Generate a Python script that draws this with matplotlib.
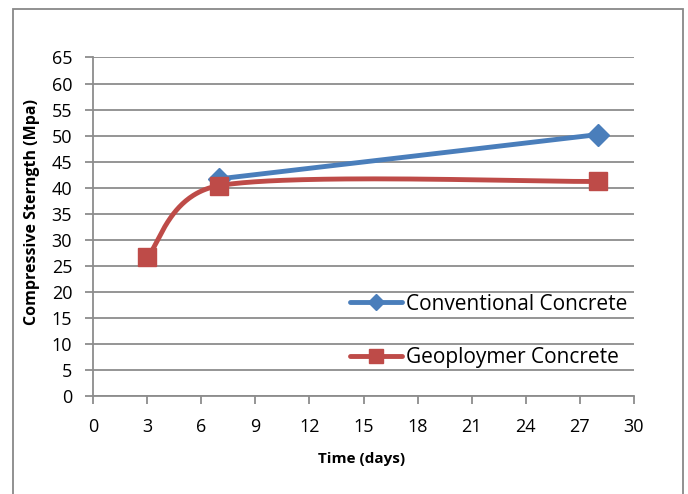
import numpy as np
import matplotlib
matplotlib.use("Agg")
import matplotlib.pyplot as plt
from matplotlib.patches import Rectangle
from matplotlib.lines import Line2D

# Data
conv_days = [7, 28]
conv_strength = [41.7, 50.2]
geo_days = [3, 7, 28]
geo_strength = [26.6, 40.4, 41.2]
series_names = ["Conventional Concrete", "Geoploymer Concrete"]
x_ticks = list(range(0, 31, 3))
y_ticks = list(range(0, 66, 5))

plt.rcParams['font.family'] = ['Open Sans', 'DejaVu Sans']

W, H, DPI = 688, 494, 100
fig = plt.figure(figsize=(W / DPI, H / DPI), dpi=DPI)
fig.patch.set_facecolor('white')

# outer border (extends past bottom edge)
fig.patches.append(Rectangle((13 / W, -0.05), (683 - 13) / W, 1 - 9 / H + 0.05,
                             transform=fig.transFigure, fill=False,
                             edgecolor='#888888', linewidth=1.3))

left, right, top, bottom = 93, 634, 57.5, 396
ax = fig.add_axes([left / W, 1 - bottom / H, (right - left) / W, (bottom - top) / H])
ax.set_xlim(0, 30)
ax.set_ylim(0, 65)


def smooth(xs, ys, n=80):
    """Excel-like smoothed line: cubic Bezier, tension 1/6, handle length limited
    to half the segment length (computed in display space)."""
    P = ax.transData.transform(np.column_stack([xs, ys]).astype(float))
    if len(P) < 3:
        return np.asarray(xs, float), np.asarray(ys, float)
    pts = []
    for i in range(len(P) - 1):
        p0 = P[i - 1] if i > 0 else P[i]
        p1, p2 = P[i], P[i + 1]
        p3 = P[i + 2] if i + 2 < len(P) else P[i + 1]
        seg_len = np.linalg.norm(p2 - p1)
        t1 = (p2 - p0) / 6
        t2 = (p3 - p1) / 6
        for tv in (t1, t2):
            L = np.linalg.norm(tv)
            if L > seg_len / 2:
                tv *= (seg_len / 2) / L
        c1 = p1 + t1
        c2 = p2 - t2
        t = np.linspace(0, 1, n)[:, None]
        seg = ((1 - t) ** 3) * p1 + 3 * ((1 - t) ** 2) * t * c1 + 3 * (1 - t) * t ** 2 * c2 + t ** 3 * p2
        pts.append(seg if i == 0 else seg[1:])
    pts = ax.transData.inverted().transform(np.vstack(pts))
    return pts[:, 0], pts[:, 1]


blue = '#4A7EBB'
red = '#BE4B48'

cx, cy = smooth(conv_days, conv_strength)
ax.plot(cx, cy, color=blue, lw=3.5, solid_capstyle='round', zorder=3)
ax.plot(conv_days, conv_strength, ls='none', marker='D', ms=11, color=blue, zorder=4)

gx, gy = smooth(geo_days, geo_strength)
ax.plot(gx, gy, color=red, lw=3.5, solid_capstyle='round', zorder=3)
ax.plot(geo_days, geo_strength, ls='none', marker='s', ms=13.5, color=red, zorder=5)

ax.set_xticks(x_ticks)
ax.set_yticks(y_ticks)
ax.grid(axis='y', color='#8c8c8c', lw=1.3)
ax.set_axisbelow(True)
for s in ['top', 'right']:
    ax.spines[s].set_visible(False)
for s in ['left', 'bottom']:
    ax.spines[s].set_color('#8c8c8c')
    ax.spines[s].set_linewidth(1.3)
ax.tick_params(axis='both', colors='#8c8c8c', labelcolor='black', labelsize=13,
               length=6, width=1.3, direction='out')
ax.tick_params(axis='x', pad=10)
ax.tick_params(axis='y', pad=9)

fig.text(362 / W, 1 - 459 / H, 'Time (days)', fontsize=11, fontweight='bold',
         ha='center', va='center')
fig.text(32 / W, 1 - 212 / H, 'Compressive Sterngth (Mpa)', fontsize=11.5,
         fontweight='bold', ha='center', va='center', rotation=90)

# legend entries inside the plot area
handles = [Line2D([], [], color=blue, lw=3.5, marker='D', ms=8.5, solid_capstyle='round'),
           Line2D([], [], color=red, lw=3.5, marker='s', ms=10, solid_capstyle='round')]
for h, name, yc in zip(handles, series_names, [304, 358]):
    lg = fig.legend([h], [name], loc='center left',
                    bbox_to_anchor=(350 / W, 1 - yc / H), bbox_transform=fig.transFigure,
                    frameon=False, fontsize=15, borderpad=0, borderaxespad=0,
                    handlelength=2.5, handletextpad=0.2)

fig.savefig('out.png', dpi=DPI, facecolor='white')
